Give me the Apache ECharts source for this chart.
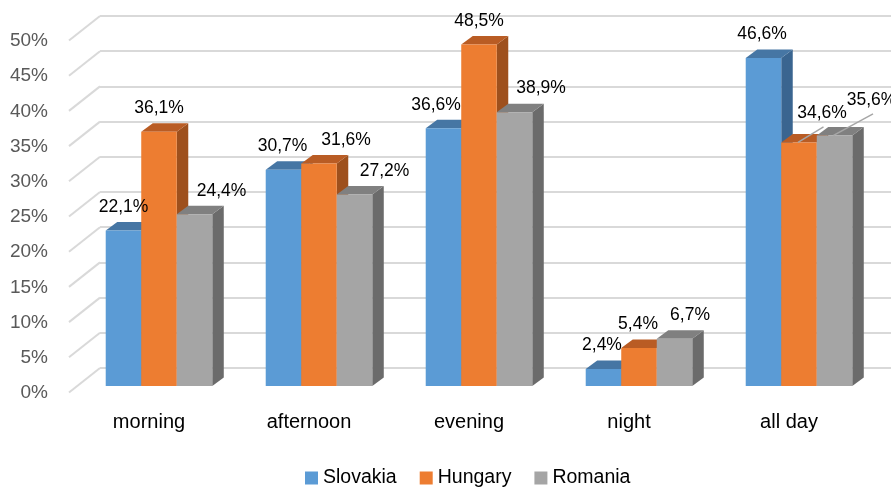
<!DOCTYPE html>
<html><head><meta charset="utf-8">
<script src="https://cdn.jsdelivr.net/npm/echarts@6/dist/echarts.min.js"></script>
<style>html,body{margin:0;padding:0;background:#fff}#c{width:891px;height:488px}</style>
</head><body><div id="c"></div>
<script>
// ---- data ----
const categories = ['morning', 'afternoon', 'evening', 'night', 'all day'];
const seriesNames = ['Slovakia', 'Hungary', 'Romania'];
const slovakia = [22.1, 30.7, 36.6, 2.4, 46.6];
const hungary  = [36.1, 31.6, 48.5, 5.4, 34.6];
const romania  = [24.4, 27.2, 38.9, 6.7, 35.6];
const yTicks = [0, 5, 10, 15, 20, 25, 30, 35, 40, 45, 50];

// ---- styles ----
const FONT = "'Liberation Sans', Arial, sans-serif";
const faceColors = [
  { front: '#5B9BD5', top: '#4676A4', side: '#3A6590' },
  { front: '#ED7D31', top: '#B95C24', side: '#9E501D' },
  { front: '#A5A5A5', top: '#808080', side: '#6B6B6B' }
];
const DEPTH_X = 11.5, DEPTH_Y = 8.5;
const BAR_RATIO = 0.222;
// label nudges [dx, extra dy] per series per category (style only)
const labelShift = [
  [[0, 0], [-1, 0], [-7.5, 0], [-1.5, 0], [-1.5, 0]],
  [[0, 0], [27, 0], [0, 0], [-1, 0], [23, -6]],
  [[27, 0], [30, 0], [26.5, 0], [15.5, 0], [37, -12]]
];
const leaderLines = { '1-4': true, '2-4': true };

const values = [slovakia, hungary, romania];

function barGeom(api, sIdx) {
  const cat = api.value(0), val = api.value(1);
  const p = api.coord([cat, val]);
  const p0 = api.coord([cat, 0]);
  const band = api.size([1, 0])[0];
  const w = band * BAR_RATIO;
  const x = p[0] + (sIdx - 1) * w - w / 2;
  return { x, w, top: p[1], bottom: p0[1], cx: x + w / 2 };
}

function barSeries(sIdx) {
  const c = faceColors[sIdx];
  return {
    type: 'custom', name: seriesNames[sIdx], xAxisIndex: 2, yAxisIndex: 2,
    itemStyle: { color: c.front }, z: 3,
    data: values[sIdx].map((v, i) => [i, v]),
    encode: { x: 0, y: 1 },
    renderItem: function (params, api) {
      const g = barGeom(api, sIdx);
      const { x, w, top, bottom } = g;
      return {
        type: 'group',
        children: [
          { type: 'polygon', shape: { points: [[x + w, top], [x + w + DEPTH_X, top - DEPTH_Y], [x + w + DEPTH_X, bottom - DEPTH_Y], [x + w, bottom]] }, style: { fill: c.side } },
          { type: 'polygon', shape: { points: [[x, top], [x + w, top], [x + w + DEPTH_X, top - DEPTH_Y], [x + DEPTH_X, top - DEPTH_Y]] }, style: { fill: c.top } },
          { type: 'rect', shape: { x: x, y: top, width: w, height: bottom - top }, style: { fill: c.front } }
        ]
      };
    }
  };
}

function labelSeries(sIdx) {
  return {
    type: 'custom', name: 'lbl' + sIdx, xAxisIndex: 2, yAxisIndex: 2, z: 10, silent: true,
    data: values[sIdx].map((v, i) => [i, v]),
    encode: { x: 0, y: 1 },
    renderItem: function (params, api) {
      const g = barGeom(api, sIdx);
      const cat = api.value(0);
      const sh = labelShift[sIdx][cat];
      const lx = g.cx + sh[0];
      const ly = g.top - 23.5 + sh[1];
      const txt = api.value(1).toFixed(1).replace('.', ',') + '%';
      const children = [{
        type: 'text',
        style: { text: txt, x: lx, y: ly, align: 'center', verticalAlign: 'middle', fontSize: 17.5, fontFamily: FONT, fill: '#000' }
      }];
      if (leaderLines[sIdx + '-' + cat]) {
        children.unshift({ type: 'line', shape: { x1: lx + 1.5, y1: ly + 14, x2: g.cx - 1, y2: g.top }, style: { stroke: '#A6A6A6', lineWidth: 1.5 } });
      }
      return { type: 'group', children };
    }
  };
}

const wallSeries = {
  type: 'custom', name: 'wall', xAxisIndex: 0, yAxisIndex: 0, z: 1, silent: true,
  data: yTicks.map(t => [0, t]),
  encode: { x: 0, y: 1 },
  renderItem: function (params, api) {
    const p = api.coord([0, api.value(1)]);
    return { type: 'line', shape: { x1: p[0], y1: p[1], x2: p[0] - 31, y2: p[1] + 24.5 }, style: { stroke: '#D9D9D9', lineWidth: 2 } };
  }
};

const chart = echarts.init(document.getElementById('c'), null, { renderer: 'canvas' });
chart.setOption({
  animation: false,
  backgroundColor: '#fff',
  grid: [
    { left: 100, right: 0, top: 16, bottom: 120 },   // back wall
    { left: 69, right: 22, top: 41, bottom: 95 },    // front labels
    { left: 79, right: 12, top: 34, bottom: 102 }    // bars
  ],
  xAxis: [
    { gridIndex: 0, type: 'value', min: 0, max: 1, show: false },
    { gridIndex: 1, type: 'category', data: categories, axisLine: { show: false }, axisTick: { show: false },
      axisLabel: { margin: 19, fontSize: 20, fontFamily: FONT, color: '#000' } },
    { gridIndex: 2, type: 'category', data: categories, show: false }
  ],
  yAxis: [
    { gridIndex: 0, type: 'value', min: 0, max: 50, interval: 5, axisLabel: { show: false }, axisLine: { show: false }, axisTick: { show: false },
      splitLine: { show: true, lineStyle: { color: '#D9D9D9', width: 2 } } },
    { gridIndex: 1, type: 'value', min: 0, max: 50, interval: 5, axisLine: { show: false }, axisTick: { show: false }, splitLine: { show: false },
      axisLabel: { formatter: '{value}%', margin: 21, fontSize: 19, fontFamily: FONT, color: '#595959' } },
    { gridIndex: 2, type: 'value', min: 0, max: 50, show: false }
  ],
  legend: {
    data: seriesNames, left: 305, top: 468, padding: 0, icon: 'rect', itemWidth: 13, itemHeight: 13, itemGap: 23,
    textStyle: { fontSize: 19.5, fontFamily: FONT, color: '#000' }
  },
  series: [wallSeries, barSeries(0), barSeries(1), barSeries(2), labelSeries(0), labelSeries(1), labelSeries(2)]
});
</script>
</body></html>
